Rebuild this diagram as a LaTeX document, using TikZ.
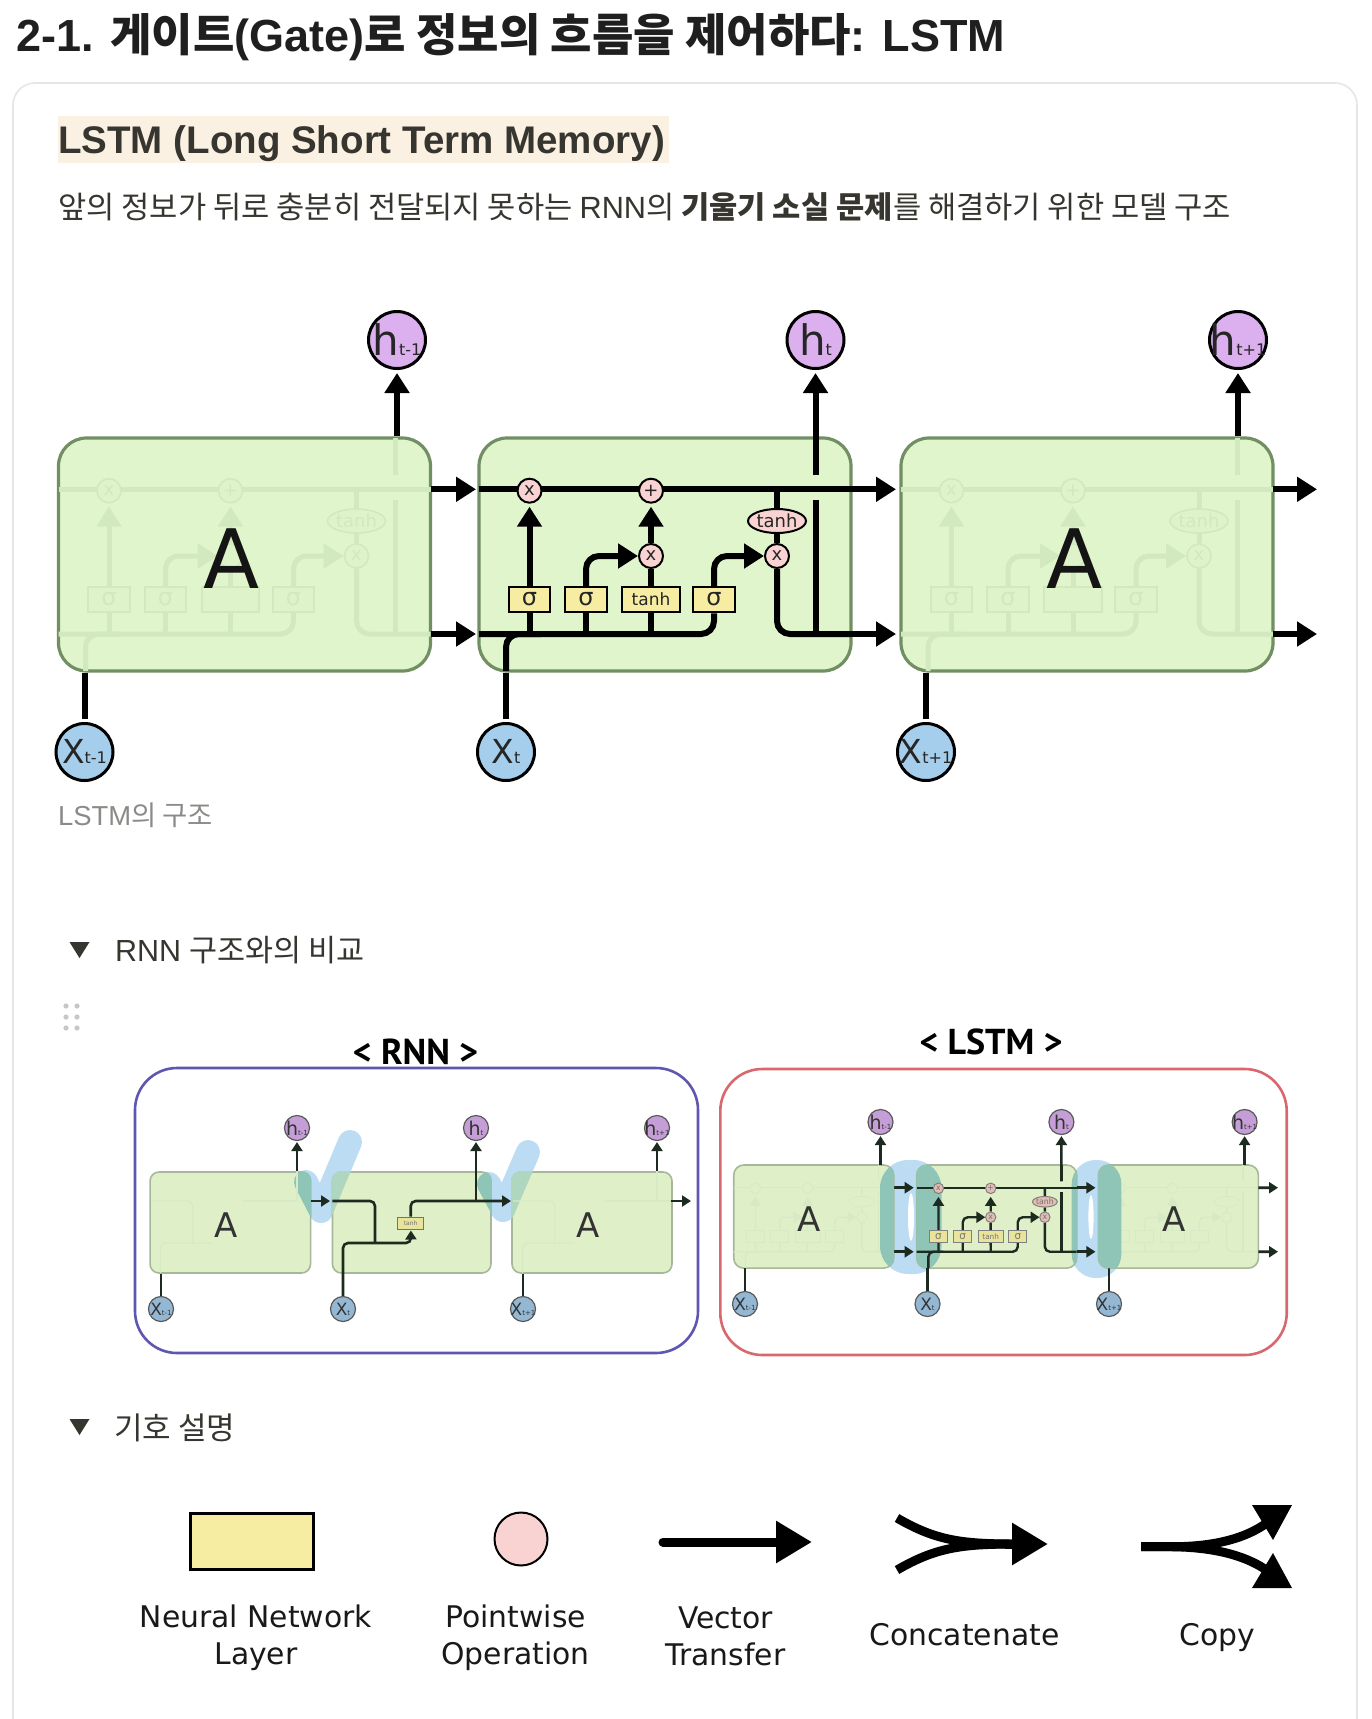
\documentclass[tikz,border=0pt]{standalone}
\usepackage{fontspec}
\usetikzlibrary{arrows.meta,shapes.geometric}
\setmainfont{Liberation Sans}
\newfontfamily\kr{Noto Sans CJK KR}
\newfontfamily\dv{DejaVu Sans}
\newfontfamily\hand{PT Sans}
\newcommand\fsz[1]{\fontsize{#1}{#1}\selectfont}
\pgfdeclarelayer{bg}\pgfdeclarelayer{lines}
\pgfsetlayers{bg,lines,main}
\definecolor{ink}{HTML}{37352F}
\definecolor{capgray}{HTML}{8A8A87}
\definecolor{cardline}{HTML}{E6E6E4}
\definecolor{hlite}{HTML}{FAF1E3}
\definecolor{hpurple}{HTML}{DCB0EF}
\definecolor{xblue}{HTML}{A5CDEC}
\definecolor{boxfill}{HTML}{E1F5CD}
\definecolor{boxline}{HTML}{728F63}
\definecolor{minifill}{HTML}{DFF0C9}
\definecolor{miniline}{HTML}{A7B89A}
\definecolor{fadeline}{HTML}{D2E8BE}
\definecolor{fadefill}{HTML}{DFF3CA}
\definecolor{minifade}{HTML}{D8E9C6}
\definecolor{laypale}{HTML}{F6EDA2}
\definecolor{oppink}{HTML}{F9D2D2}
\definecolor{miniyel}{HTML}{E9E49C}
\definecolor{minipink}{HTML}{E2BDB4}
\definecolor{minidark}{HTML}{1C2A20}
\definecolor{hlblue}{HTML}{BCDCF3}
\definecolor{hlteal}{HTML}{8FC5B6}
\definecolor{rnnframe}{HTML}{5E56B0}
\definecolor{lstmframe}{HTML}{D9676E}
\newcommand\cellpars[9]{\def\cw{#1}\def\cc{#2}\def\tl{#3}\def\tw{#4}\def\nw{#5}\def\nc{#6}\def\fy{#7}\def\fp{#8}\def\ct{#9}}
\newcommand\boxpars[4]{\def\bf{#1}\def\bl{#2}\def\bw{#3}\def\br{#4}}
\newcommand\cl[1]{#1}
\newcommand\cll[1]{#1}
\tikzset{
 cellline/.style={line width=\cw,draw=\cc},
 cellarrow/.style={cellline,-{Triangle[length=\tl,width=\tw]},shorten >=3pt},
 cellhoriz/.style={cellline,-{Triangle[length=\tl,width=\tw]},shorten >=0pt},
 layerbox/.style={rectangle,draw=\nc,line width=\nw,fill=\fy,text=\ct,inner sep=0pt,transform shape,font=\dv\fsz{17}},
 sigmabox/.style={layerbox,font=\dv\fsz{24}},
 opnode/.style={circle,draw=\nc,line width=\nw,fill=\fp,text=\ct,inner sep=0pt,minimum size=24pt,transform shape,font=\dv\fsz{18}},
 opell/.style={ellipse,draw=\nc,line width=\nw,fill=\fp,text=\ct,inner sep=0pt,minimum width=58pt,minimum height=24pt,transform shape,font=\dv\fsz{18}},
 cellbox/.style={rectangle,fill=\bf,draw=\bl,line width=\bw,rounded corners=\br,inner sep=0pt,minimum width=372pt,minimum height=233pt,transform shape},
 mline/.style={line width=6pt,draw=black},
 marrow/.style={mline,-{Triangle[length=20pt,width=24pt]},shorten >=3pt},
 hcirc/.style={circle,draw=black,line width=3pt,fill=hpurple,inner sep=0pt,minimum size=57pt,text=black!85},
 xcirc/.style={circle,draw=black,line width=3pt,fill=xblue,inner sep=0pt,minimum size=57pt,text=black!85},
 smline/.style={line width=2.6pt,draw=minidark},
 smarrow/.style={smline,-{Triangle[length=9pt,width=11pt]},shorten >=1pt},
 smfade/.style={line width=1.4pt,draw=minifade},
 smh/.style={circle,draw=black!65,line width=1.2pt,fill=hpurple!90!black,inner sep=0pt,minimum size=25pt,text=black!80},
 smx/.style={circle,draw=black!65,line width=1.2pt,fill=xblue!90!black,inner sep=0pt,minimum size=25pt,text=black!80},
 smbox/.style={rectangle,fill=minifill,draw=miniline,line width=1.6pt,rounded corners=9pt,inner sep=0pt},
 bodytext/.style={anchor=west,text=ink,inner sep=0pt},
 legendtext/.style={align=center,text=black!90,inner sep=0pt,font=\dv\fontsize{29.8}{37}\selectfont},
 bigarrow/.style={line width=9pt,draw=black,-{Triangle[length=36pt,width=40pt]}},
 checkstroke/.style={line width=24pt,line cap=round,line join=round},
}
\newcommand\circlab[5]{\makebox[0pt][c]{\smash{\raisebox{-#3pt}{\dv\fsz{#1}#4\fsz{#2}#5}}}}
\newcommand\lstmcell[1]{%
 \coordinate (#1tl) at (478,489.3);
 \coordinate (#1tr) at (850,489.3);
 \coordinate (#1bl) at (478,634);
 \coordinate (#1br) at (850,634);
 \coordinate (#1xb) at (505,671);
 \coordinate (#1xj) at (540,634);
 \coordinate (#1ht) at (814.5,438);
 \coordinate (#1hm) at (814.5,475);
 \coordinate (#1hl) at (814.5,500);
 \coordinate (#1hb) at (814.5,634);
 \coordinate (#1ja) at (776,489.3);
 \begin{pgfonlayer}{bg}
  \node[cellbox] (#1box) at (664,554.5) {};
 \end{pgfonlayer}
 \node[opnode] (#1m1) at (528.5,490.7) {\cl{x}};
 \node[opnode] (#1a1) at (650,490.7) {\cl{+}};
 \node[opell] (#1tn) at (776,521) {\cl{tanh}};
 \node[opnode] (#1m2) at (650,556) {\cll{x}};
 \node[opnode] (#1m3) at (776,556) {\cl{x}};
 \node[sigmabox,minimum width=41.5pt,minimum height=25.5pt] (#1s1) at (528.5,599.5) {\cl{σ}};
 \node[sigmabox,minimum width=41.5pt,minimum height=25.5pt] (#1s2) at (585,599.5) {\cl{σ}};
 \node[layerbox,minimum width=57.5pt,minimum height=25.5pt] (#1t) at (650,599.5) {\cll{tanh}};
 \node[sigmabox,minimum width=41.5pt,minimum height=25.5pt] (#1s3) at (713,599.5) {\cl{σ}};
 \begin{pgfonlayer}{lines}
  \draw[cellline] (#1tl) -- (#1tr);
  \draw[cellline,rounded corners=\rc] (#1bl) -| (#1s3);
  \draw[cellline,rounded corners=\rc] (#1xb) |- (#1xj);
  \draw[cellline] (#1s1) -- (#1s1 |- #1bl);
  \draw[cellline] (#1s2) -- (#1s2 |- #1bl);
  \draw[cellline] (#1t) -- (#1t |- #1bl);
  \draw[cellarrow] (#1s1) -- (#1m1);
  \draw[cellhoriz,rounded corners=\rc] (#1s2) |- (#1m2);
  \draw[cellline] (#1t) -- (#1m2);
  \draw[cellarrow] (#1m2) -- (#1a1);
  \draw[cellhoriz,rounded corners=\rc] (#1s3) |- (#1m3);
  \draw[cellline] (#1ja) -- (#1tn);
  \draw[cellline] (#1tn) -- (#1m3);
  \draw[cellline,rounded corners=\rc] (#1m3) |- (#1br);
  \draw[cellline] (#1hl) -- (#1hb);
  \draw[cellline] (#1hm) -- (#1ht);
 \end{pgfonlayer}
}
\newcommand\fullbig{\cellpars{6pt}{black}{20pt}{24pt}{2pt}{black}{laypale}{oppink}{black!85}\boxpars{boxfill}{boxline}{3.2pt}{28pt}\def\rc{13pt}}
\newcommand\fadebig{\cellpars{5pt}{fadeline}{20pt}{24pt}{1.6pt}{fadeline}{fadefill}{fadefill}{fadeline}\boxpars{boxfill}{boxline}{3.2pt}{28pt}\def\rc{13pt}\def\cll##1{}}
\newcommand\fullmini{\cellpars{2.4pt}{minidark}{9pt}{11pt}{1pt}{black!50}{miniyel}{minipink}{black!55}\boxpars{minifill}{miniline}{1.6pt}{10pt}\def\rc{5pt}}
\newcommand\fademini{\cellpars{1.4pt}{minifade}{9pt}{11pt}{.8pt}{minifade}{minifill}{minifill}{minifade}\boxpars{minifill}{miniline}{1.6pt}{10pt}\def\rc{5pt}\def\cl##1{}\def\cll##1{}}
\begin{document}
\begin{tikzpicture}[x=1pt,y=-1pt]
\useasboundingbox (0,0) rectangle (1371,1719);
\begin{pgfonlayer}{bg}
 \fill[white] (0,0) rectangle (1371,1719);
 \coordinate (cardbl) at (13,1719);
 \coordinate (cardtl) at (13,83);
 \coordinate (cardtr) at (1357,83);
 \coordinate (cardbr) at (1357,1719);
 \draw[cardline,line width=1.6pt,rounded corners=22pt] (cardbl) -- (cardtl) -- (cardtr) -- (cardbr);
 \fill[hlite] (58,116) rectangle (669,163);
\end{pgfonlayer}

% headings
\node[anchor=west,inner sep=0pt,text=black!88] (title) at (16,37)
 {\fsz{45}\bfseries 2-1. {\kr 게이트}(Gate){\kr 로 정보의 흐름을 제어하다}: LSTM};
\node[bodytext] (head) at (58,144) {\fsz{38.5}\bfseries LSTM (Long Short Term Memory)};
\node[bodytext] (sub) at (58,207)
 {\fsz{30.7}\kr 앞의 정보가 뒤로 충분히 전달되지 못하는 {\rmfamily RNN}의 {\bfseries 기울기 소실 문제}를 해결하기 위한 모델 구조};

% main LSTM chain
\begin{scope}[shift={(-419.5,0)}]
 \fadebig\lstmcell{a}
\end{scope}
\begin{scope}[shift={(1,0)}]
 \fullbig\lstmcell{b}
\end{scope}
\begin{scope}[shift={(423,0)}]
 \fadebig\lstmcell{c}
\end{scope}
\node[text=black!92,inner sep=0pt,font=\dv\fsz{82}] (Aa) at (232,559) {A};
\node[text=black!92,inner sep=0pt,font=\dv\fsz{82}] (Ac) at (1075,559) {A};
\node[hcirc] (h1) at (397,340) {\circlab{42}{16}{15}{h}{t-1}};
\node[hcirc] (h2) at (815.5,340) {\circlab{42}{16}{15}{h}{t}};
\node[hcirc] (h3) at (1238,340) {\circlab{42}{16}{15}{h}{t+1}};
\node[xcirc] (x1) at (84.5,752) {\circlab{33}{16}{11}{X}{t-1}};
\node[xcirc] (x2) at (506,752) {\circlab{33}{16}{11}{X}{t}};
\node[xcirc] (x3) at (926,752) {\circlab{33}{16}{11}{X}{t+1}};
\coordinate (endt) at (1320,489.3);
\coordinate (endb) at (1320,634);
\begin{pgfonlayer}{lines}
 \draw[marrow] (abox.north -| h1) -- (h1);
 \draw[marrow] (bhm) -- (h2);
 \draw[marrow] (cbox.north -| h3) -- (h3);
 \draw[mline,shorten <=3pt] (x1) -- (abox.south -| x1);
 \draw[mline,shorten <=3pt] (x2) -- (bbox.south -| x2);
 \draw[mline,shorten <=3pt] (x3) -- (cbox.south -| x3);
 \draw[marrow] (atr) -- (btl);
 \draw[marrow] (abr) -- (bbl);
 \draw[marrow,shorten >=5pt] (btr) -- (ctl);
 \draw[marrow,shorten >=5pt] (bbr) -- (cbl);
 \draw[marrow] (ctr) -- (endt);
 \draw[marrow] (cbr) -- (endb);
\end{pgfonlayer}

\node[anchor=west,inner sep=0pt,text=capgray] (cap) at (58,815) {\fsz{27.4}LSTM{\kr 의 구조}};

% toggle 1
\coordinate (t1a) at (69.5,942);\coordinate (t1b) at (89.5,942);\coordinate (t1c) at (79.5,958);
\fill[ink] (t1a) -- (t1b) -- (t1c) -- cycle;
\node[bodytext] (tog1) at (115,950) {\fsz{30.5}RNN {\kr 구조와의 비교}};
\foreach \dx in {66,77}\foreach \dy in {1006,1017,1028}{\fill[black!22] (\dx,\dy) circle (2.6pt);}

% RNN panel
\node[text=black,inner sep=0pt,font=\hand\bfseries\fsz{36}] (rnnt) at (415.5,1052) {< RNN >};
\node[draw=rnnframe,line width=2.6pt,rounded corners=42pt,inner sep=0pt,minimum width=563pt,minimum height=285pt] (rframe) at (416.5,1210.5) {};
\coordinate (ck1a) at (306,1182);\coordinate (ck1b) at (321,1211);\coordinate (ck1c) at (350,1142);
\coordinate (ck2a) at (489,1184);\coordinate (ck2b) at (503,1210);\coordinate (ck2c) at (528,1152);
\begin{pgfonlayer}{bg}
 \draw[hlblue,checkstroke] (ck1a) -- (ck1b) -- (ck1c);
 \draw[hlblue,checkstroke] (ck2a) -- (ck2b) -- (ck2c);
 \node[smbox,minimum width=160.5pt,minimum height=101pt] (rb1) at (230.3,1222.5) {};
 \node[smbox,minimum width=158.5pt,minimum height=101pt] (rb2) at (411.7,1222.5) {};
 \node[smbox,minimum width=160pt,minimum height=101pt] (rb3) at (592,1222.5) {};
 \begin{scope}
  \clip[rounded corners=9pt] (rb1.south west) rectangle (rb1.north east);
  \draw[hlteal,checkstroke] (ck1a) -- (ck1b) -- (ck1c);
 \end{scope}
 \begin{scope}
  \clip[rounded corners=9pt] (rb2.south west) rectangle (rb2.north east);
  \draw[hlteal!60!minifill,checkstroke] (ck1a) -- (ck1b) -- (ck1c);
  \draw[hlteal,checkstroke] (ck2a) -- (ck2b) -- (ck2c);
 \end{scope}
 \begin{scope}
  \clip[rounded corners=9pt] (rb3.south west) rectangle (rb3.north east);
  \draw[hlteal!60!minifill,checkstroke] (ck2a) -- (ck2b) -- (ck2c);
 \end{scope}
\end{pgfonlayer}
\node[text=black!80,inner sep=0pt,font=\dv\fsz{34}] (rA1) at (226,1225) {A};
\node[text=black!80,inner sep=0pt,font=\dv\fsz{34}] (rA3) at (588,1225) {A};
\node[smh] (rh1) at (297,1128) {\circlab{19}{7}{7}{h}{t-1}};
\node[smh] (rh2) at (476,1128) {\circlab{19}{7}{7}{h}{t}};
\node[smh] (rh3) at (657,1128) {\circlab{19}{7}{7}{h}{t+1}};
\node[smx] (rx1) at (161,1309) {\circlab{17}{7}{6}{X}{t-1}};
\node[smx] (rx2) at (343,1309) {\circlab{17}{7}{6}{X}{t}};
\node[smx] (rx3) at (523,1309) {\circlab{17}{7}{6}{X}{t+1}};
\node[rectangle,draw=black!55,line width=1pt,fill=miniyel,inner sep=0pt,minimum width=26.5pt,minimum height=12pt,text=black!55,font=\dv\fsz{6}] (rt) at (410.7,1223) {tanh};
\coordinate (rin) at (332.4,1201);
\coordinate (rd) at (375,1243);
\coordinate (rout) at (512,1201);
\coordinate (rj2) at (476,1201);
\coordinate (rend) at (692,1201);
\coordinate (rleft) at (310.6,1201);
\coordinate (rtip) at (331,1201);
\coordinate (rright) at (670.5,1201);
\coordinate (rlow) at (411,1243);
\begin{pgfonlayer}{lines}
 \coordinate (fa) at (151,1201);\coordinate (fb) at (192.7,1243);\coordinate (fc) at (160.5,1273);
 \coordinate (fd) at (212,1243);\coordinate (fe) at (242.5,1201);\coordinate (ff) at (296,1201);
 \draw[smfade,rounded corners=5pt] (fa) -| (fb);
 \draw[smfade,rounded corners=5pt] (fc) |- (fd);
 \draw[smfade] (fe) -- (ff);
 \draw[smfade] (rb1.north -| rh1) -- (ff -| rh1);
 \coordinate (ga) at (513,1201);\coordinate (gb) at (554.7,1243);\coordinate (gc) at (522.5,1273);
 \coordinate (gd) at (574,1243);\coordinate (ge) at (604.5,1201);\coordinate (gf) at (671,1201);
 \draw[smfade,rounded corners=5pt] (ga) -| (gb);
 \draw[smfade,rounded corners=5pt] (gc) |- (gd);
 \draw[smfade] (ge) -- (gf);
 \draw[smfade] (rb3.north -| rh3) -- (gf -| rh3);
 \draw[smarrow] (rb1.north -| rh1) -- (rh1);
 \draw[smarrow] (rb3.north -| rh3) -- (rh3);
 \draw[smarrow] (rj2) -- (rh2);
 \draw[smline] (rx1) -- (rb1.south -| rx1);
 \draw[smline] (rx3) -- (rb3.south -| rx3);
 \draw[smarrow] (rleft) -- (rtip);
 \draw[smline,rounded corners=5pt] (rin) -| (rd);
 \draw[smarrow,rounded corners=5pt] (rx2) |- (rlow) -- (rt);
 \draw[smarrow,rounded corners=5pt] (rt) |- (rout);
 \draw[smarrow] (rright) -- (rend);
\end{pgfonlayer}

% LSTM panel
\node[text=black,inner sep=0pt,font=\hand\bfseries\fsz{36}] (lstmt) at (991,1042) {< LSTM >};
\node[draw=lstmframe,line width=2.6pt,rounded corners=42pt,inner sep=0pt,minimum width=566.4pt,minimum height=286pt] (lframe) at (1003.5,1212) {};
\begin{pgfonlayer}{bg}
 \fill[hlblue,rounded corners=28pt] (880,1160) rectangle (941.5,1274);
 \fill[white] (911,1217) ellipse (3pt and 24pt);
 \fill[hlblue,rounded corners=24pt] (1071.7,1160) rectangle (1121.4,1278);
 \fill[white] (1091,1217) ellipse (2.6pt and 22pt);
\end{pgfonlayer}
\begin{scope}[shift={(528.2,971.2)},xscale=.43,yscale=.4425]
 \fademini\lstmcell{p}
\end{scope}
\begin{scope}[shift={(711.2,971.2)},xscale=.43,yscale=.4425]
 \fullmini\lstmcell{q}
\end{scope}
\begin{scope}[shift={(892.9,971.2)},xscale=.43,yscale=.4425]
 \fademini\lstmcell{r}
\end{scope}
\begin{pgfonlayer}{bg}
 \begin{scope}
  \clip[rounded corners=10pt] (qbox.south west) rectangle (qbox.north east);
  \fill[hlteal,rounded corners=28pt] (880,1160) rectangle (941.5,1274);
  \fill[hlteal,rounded corners=24pt] (1071.7,1160) rectangle (1121.4,1278);
 \end{scope}
\end{pgfonlayer}
% the highlighter covers the pale wiring and shapes of the outer cells
\begin{scope}
 \clip[rounded corners=10pt] (pbox.south west) rectangle (pbox.north east);
 \fill[hlteal,rounded corners=28pt] (880,1160) rectangle (941.5,1274);
\end{scope}
\begin{scope}
 \clip[rounded corners=10pt] (rbox.south west) rectangle (rbox.north east);
 \fill[hlteal,rounded corners=24pt] (1071.7,1160) rectangle (1121.4,1278);
\end{scope}
\node[text=black!80,inner sep=0pt,font=\dv\fsz{34}] (lA1) at (809.5,1219) {A};
\node[text=black!80,inner sep=0pt,font=\dv\fsz{34}] (lA3) at (1174,1219) {A};
\node[smh] (lh1) at (880.5,1122) {\circlab{19}{7}{7}{h}{t-1}};
\node[smh] (lh2) at (1061.4,1122) {\circlab{19}{7}{7}{h}{t}};
\node[smh] (lh3) at (1244.6,1122) {\circlab{19}{7}{7}{h}{t+1}};
\node[smx] (lx1) at (745,1304) {\circlab{17}{7}{6}{X}{t-1}};
\node[smx] (lx2) at (927.5,1304) {\circlab{17}{7}{6}{X}{t}};
\node[smx] (lx3) at (1109,1304) {\circlab{17}{7}{6}{X}{t+1}};
\coordinate (lendt) at (1279,1187.7);
\coordinate (lendb) at (1279,1251.7);
\begin{pgfonlayer}{lines}
 \draw[smarrow] (pbox.north -| lh1) -- (lh1);
 \draw[smarrow] (qhm) -- (lh2);
 \draw[smarrow] (rbox.north -| lh3) -- (lh3);
 \draw[smline] (lx1) -- (pbox.south -| lx1);
 \draw[smline] (lx2) -- (qbox.south -| lx2);
 \draw[smline] (lx3) -- (rbox.south -| lx3);
 \draw[smarrow,shorten >=3pt] (ptr) -- (qtl);
 \draw[smarrow,shorten >=3pt] (pbr) -- (qbl);
 \draw[smarrow,shorten >=3pt] (qtr) -- (rtl);
 \draw[smarrow,shorten >=3pt] (qbr) -- (rbl);
 \draw[smarrow] (rtr) -- (lendt);
 \draw[smarrow] (rbr) -- (lendb);
\end{pgfonlayer}

% toggle 2
\coordinate (t2a) at (69.5,1419);\coordinate (t2b) at (89.5,1419);\coordinate (t2c) at (79.5,1435);
\fill[ink] (t2a) -- (t2b) -- (t2c) -- cycle;
\node[bodytext] (tog2) at (114,1428) {\fsz{31}\kr 기호 설명};

% legend
\node[rectangle,draw=black,line width=3pt,fill=laypale,inner sep=0pt,minimum width=123pt,minimum height=56pt] (lg1) at (252,1541) {};
\node[circle,draw=black,line width=2pt,fill=oppink,inner sep=0pt,minimum size=53pt] (lg2) at (521,1539) {};
\coordinate (va) at (663,1542);\coordinate (vb) at (812,1542);
\draw[bigarrow,line cap=round] (va) -- (vb);
\coordinate (ca) at (897,1518);\coordinate (cb) at (897,1570);\coordinate (cc) at (1048,1544);
\draw[line width=9pt] (ca) .. controls (935,1540) and (960,1544) .. (1015,1544);
\draw[line width=9pt] (cb) .. controls (935,1548) and (960,1544) .. (1015,1544);
\draw[bigarrow] (1005,1544) -- (cc);
\coordinate (da) at (1141,1546.7);\coordinate (db) at (1273,1518);\coordinate (dc) at (1273,1575);
\draw[line width=9pt] (da) -- (1170,1546.7) .. controls (1215,1547) and (1250,1538) .. (db);
\draw[line width=9pt] (da) -- (1170,1546.7) .. controls (1215,1547) and (1250,1556) .. (dc);
\fill (1252,1505) -- (1292,1505) -- (1273,1540) -- cycle;
\fill (1252,1588) -- (1292,1588) -- (1273,1553) -- cycle;
\node[legendtext] (t1) at (256,1638) {Neural Network\\Layer};
\node[legendtext] (t2) at (515.6,1638) {Pointwise\\Operation};
\node[legendtext] (t3) at (725.5,1636) {Vector\\Transfer};
\node[legendtext] (t4) at (964.5,1635) {Concatenate};
\node[legendtext] (t5) at (1217,1638) {Copy};
\end{tikzpicture}
\end{document}
